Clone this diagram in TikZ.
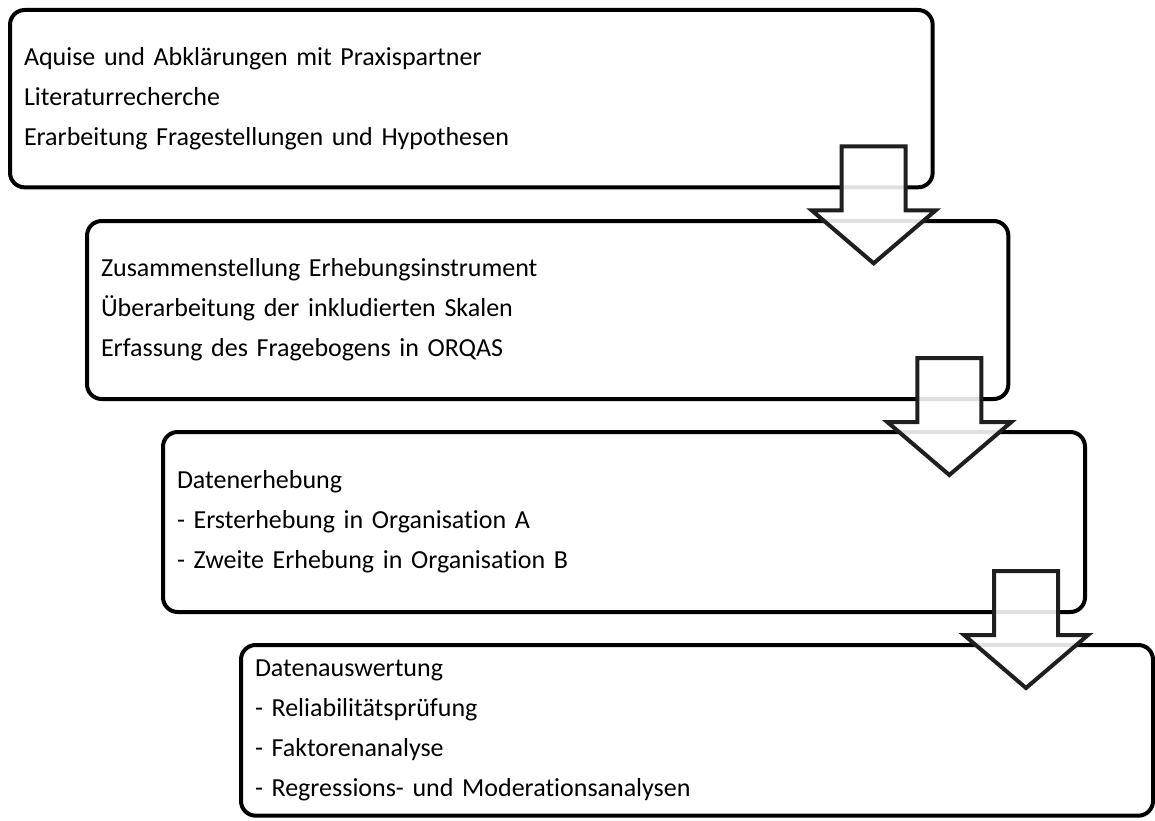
\documentclass[tikz,border=0pt]{standalone}
\usepackage{fontspec}
\setmainfont{Carlito}[Ligatures=NoCommon]
\usetikzlibrary{calc}

\tikzset{
    stagebox/.style={draw, line width=3pt, rounded corners=11pt, anchor=north west,
        outer sep=0pt, inner xsep=10.5pt, inner ysep=0pt, align=left,
        font=\fontsize{19.5pt}{30pt}\selectfont},
    blockarrow/.style={draw=black!88, line width=3pt, fill=white, fill opacity=0.88}
}

\begin{document}
\begin{tikzpicture}[x=0.75pt, y=-0.75pt]
        \useasboundingbox (0,0) rectangle (1155,820);

        % Stages
        \node[stagebox, text width=671pt, minimum height=133pt] (box1) at (10,10)
            {Aquise und Abklärungen mit Praxispartner\\
             Literaturrecherche\\
             Erarbeitung Fragestellungen und Hypothesen};
        \node[stagebox, text width=670pt, minimum height=133.5pt] (box2) at (87,221)
            {Zusammenstellung Erhebungsinstrument\\
             Überarbeitung der inkludierten Skalen\\
             Erfassung des Fragebogens in ORQAS};
        \node[stagebox, text width=670.5pt, minimum height=135pt] (box3) at (163,432)
            {Datenerhebung\\
             - Ersterhebung in Organisation A\\
             - Zweite Erhebung in Organisation B};
        \node[stagebox, text width=663pt, minimum height=128pt] (box4) at (241,645)
            {Datenauswertung\\
             - Reliabilitätsprüfung\\
             - Faktorenanalyse\\
             - Regressions- und Moderationsanalysen};

        % Arrows between stages
        \foreach \i in {1,2,3} {
            \draw[blockarrow] ($(box\i.south east)+(-91,-41)$) -- ++(64,0) -- ++(0,64)
                -- ++(30,0) -- ++(-62,53) -- ++(-62,-53) -- ++(30,0) -- cycle;
        }
    \end{tikzpicture}
\end{document}
